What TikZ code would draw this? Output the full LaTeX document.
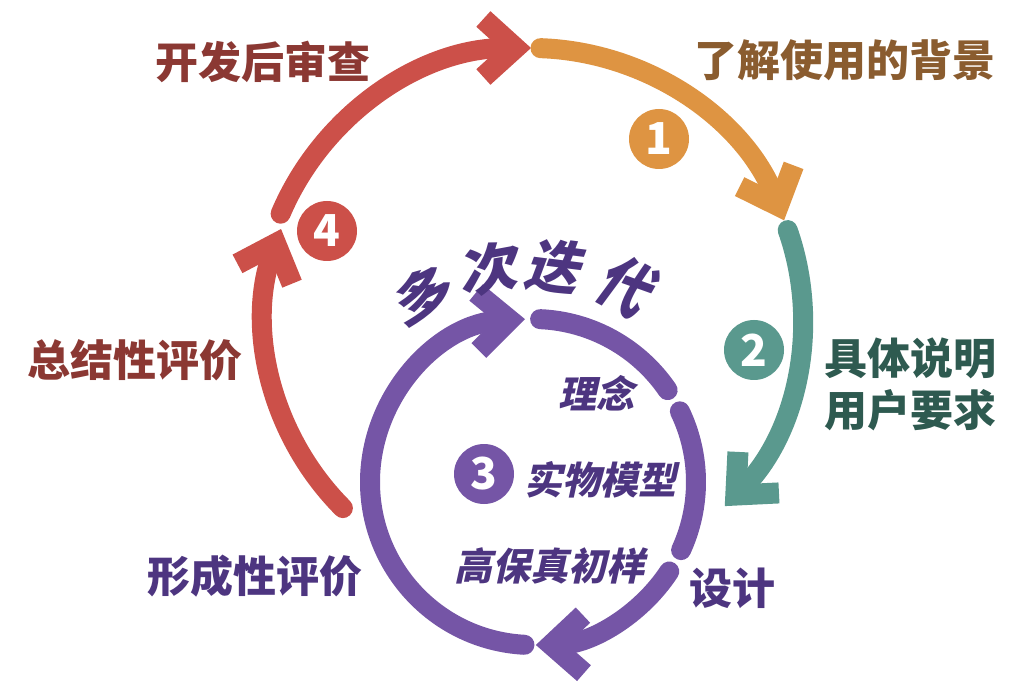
\documentclass[tikz,border=0pt]{standalone}
\usepackage{fontspec}
\newfontfamily\cjk{Noto Sans CJK SC}[BoldFont={* Black}]
\usepackage{tikz}
\usetikzlibrary{arrows.meta,calc}
\definecolor{ringred}{HTML}{CC5049}
\definecolor{ringorange}{HTML}{DE9442}
\definecolor{ringteal}{HTML}{5A998E}
\definecolor{ringpurple}{HTML}{7555A6}
\definecolor{txtred}{HTML}{8B3833}
\definecolor{txtbrown}{HTML}{8A5C2F}
\definecolor{txtteal}{HTML}{2E5A50}
\definecolor{txtpurple}{HTML}{4D3580}

\begin{document}
\begin{tikzpicture}[x=1pt,y=1pt]
    \tikzset{
      seg/.style={line width=20pt,line cap=round},
      ring/.style={seg,-{Straight Barb[length=32pt,width=58pt,line width=21pt,sharp]}},
      badge/.style={circle,fill=#1,minimum size=60pt,inner sep=0pt,text=white,font=\cjk\bfseries\fontsize{44}{44}\selectfont},
      lbl/.style={text=#1,align=left,inner sep=0pt,font=\cjk\bfseries\fontsize{43}{52}\selectfont},
      phase/.style={text=txtpurple,inner sep=0pt,xslant=0.22,transform shape,font=\cjk\bfseries\fontsize{38}{38}\selectfont},
      iter/.style={text=txtpurple,inner sep=0pt,xslant=0.25,transform shape,font=\cjk\bfseries\fontsize{56}{56}\selectfont}
    }
    \useasboundingbox (0,0) rectangle (1024,691);
    \coordinate (outer) at (531,371);
    \coordinate (inner) at (533,209);
    % outer cycle
    \draw[ring,draw=ringred] ($(outer)+(225:266)$) arc[start angle=225,end angle=160,radius=266];
    \draw[ring,draw=ringred] ($(outer)+(157:272)$) arc[start angle=157,end angle=90,radius=272];
    \draw[ring,draw=ringorange] ($(outer)+(88:272)$) arc[start angle=88,end angle=21.5,radius=272];
    \draw[ring,draw=ringteal] ($(outer)+(19.3:272)$) arc[start angle=19.3,end angle=-45,radius=266];
    % inner cycle
    \draw[seg,draw=ringpurple] ($(inner)+(87.5:163)$) arc[start angle=87.5,end angle=34.3,radius=163];
    \draw[seg,draw=ringpurple] ($(inner)+(25.7:163)$) arc[start angle=25.7,end angle=-24.7,radius=163];
    \draw[ring,draw=ringpurple] ($(inner)+(-33.3:163)$) arc[start angle=-33.3,end angle=-89,radius=163];
    \draw[ring,draw=ringpurple] ($(inner)+(-93:163)$) arc[start angle=-93,end angle=-267.2,radius=163];
    % numbers
    \node[badge=ringorange] (n1) at (659,552) {1};
    \node[badge=ringteal] (n2) at (754,341) {2};
    \node[badge=ringpurple] (n3) at (484,217) {3};
    \node[badge=ringred] (n4) at (327,460) {4};
    % labels
    \node[lbl=txtred] (review) at (263,629) {开发后审查};
    \node[lbl=txtbrown] (context) at (845,631) {了解使用的背景};
    \node[lbl=txtteal] (spec) at (910,307) {具体说明\\用户要求};
    \node[lbl=txtred] (summative) at (135,331) {总结性评价};
    \node[lbl=txtpurple] (formative) at (255,115) {形成性评价};
    \node[lbl=txtpurple] (design) at (732,103) {设计};
    \node[phase] (concept) at (600,298) {理念};
    \node[phase] (mockup) at (604,211) {实物模型};
    \node[phase] (proto) at (553,125) {高保真初样};
    \node[iter,rotate=30] (it1) at ($(inner)+(120:217)$) {多};
    \node[iter,rotate=11] (it2) at ($(inner)+(101:217)$) {次};
    \node[iter,rotate=-7] (it3) at ($(inner)+(83.5:217)$) {迭};
    \node[iter,rotate=-26] (it4) at ($(inner)+(64:217)$) {代};
  \end{tikzpicture}
\end{document}
